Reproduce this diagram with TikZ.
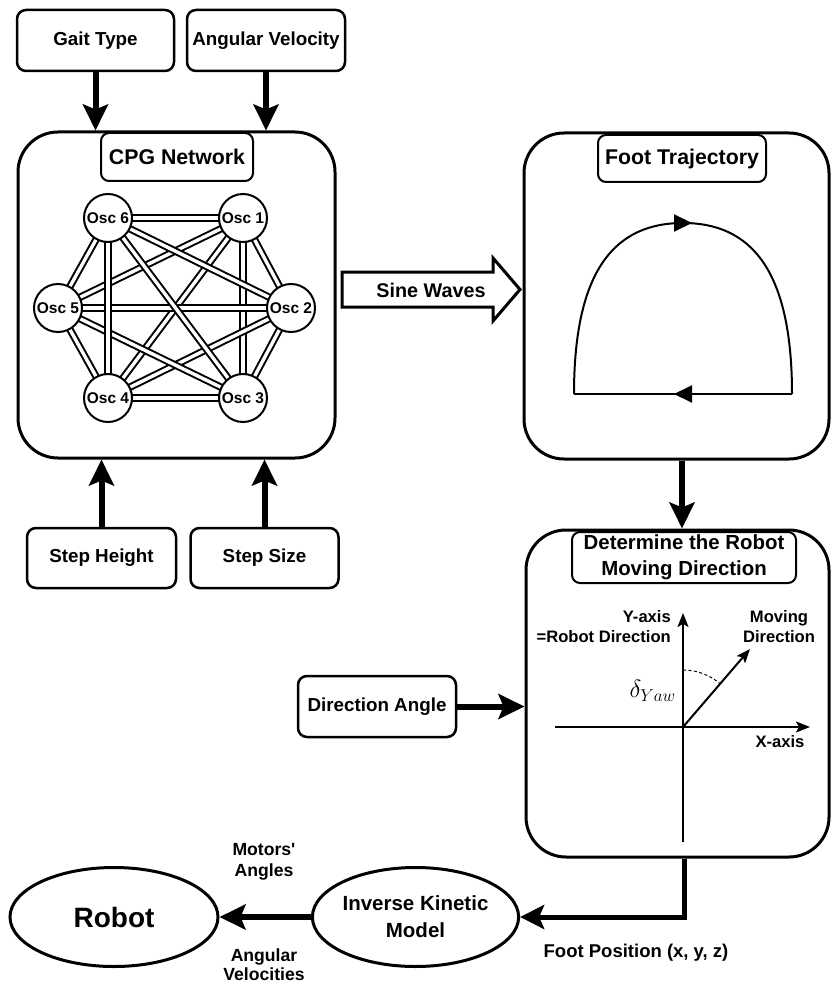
\documentclass[tikz,border=0pt]{standalone}
\usepackage[no-math]{fontspec}
\setmainfont{Liberation Sans}
\usetikzlibrary{arrows.meta,shapes.geometric,backgrounds,decorations.markings,calc}
\newcommand{\fsz}[2]{\fontsize{#1pt}{#2pt}\selectfont\bfseries}
\begin{document}
\begin{tikzpicture}[x=1pt,y=-1pt,
  bigbox/.style={draw, line width=3pt, rounded corners=40pt, inner sep=0pt},
  inbox/.style={draw, line width=2pt, rounded corners=8pt, fill=white, inner sep=0pt, align=center},
  smallbox/.style={draw, line width=2.5pt, rounded corners=9pt, inner sep=0pt, font=\fsz{18.8}{22}},
  osc/.style={circle, draw, line width=2pt, fill=white, minimum size=48pt, inner sep=0pt, font=\fsz{15.5}{18}},
  link/.style={line width=2pt, double=white, double distance=3.4pt},
  bigarrow/.style={line width=6pt, -{Stealth[length=26pt,width=25pt,inset=5pt]}},
  midarrow/.style={line width=5pt, -{Stealth[length=24pt,width=24pt,inset=5pt]}},
  axisline/.style={line width=2pt},
  axisarrow/.style={line width=2pt, -{Stealth[length=14pt,width=11pt,inset=3pt]}},
  traj/.style={line width=2pt},
  trajmark/.style={postaction={decorate}, decoration={markings, mark=at position 0.5 with {\arrow[xshift=9pt]{Triangle[length=18pt,width=17pt]}}}},
  oval/.style={ellipse, draw, line width=3pt, inner sep=0pt, align=center},
  plain/.style={inner sep=0pt, align=center}
]
\useasboundingbox (0,0) rectangle (832,987);

% ---------- top inputs ----------
\node[smallbox, minimum width=157pt, minimum height=61pt] (gait) at (95.5,40.5) {Gait Type};
\node[smallbox, minimum width=158pt, minimum height=61pt] (angvel) at (266,40.5) {Angular Velocity};

% ---------- CPG network ----------
\node[bigbox, minimum width=317pt, minimum height=326pt] (cpg) at (176.5,295) {};
\node[inbox, minimum width=152pt, minimum height=48pt, font=\fsz{21.3}{25}] (cpglabel) at (177,157) {CPG Network};

\node[osc] (o1) at (243,218) {Osc 1};
\node[osc] (o2) at (291,308) {Osc 2};
\node[osc] (o3) at (243,398) {Osc 3};
\node[osc] (o4) at (108,398) {Osc 4};
\node[osc] (o5) at (58,308) {Osc 5};
\node[osc] (o6) at (108,218) {Osc 6};
\begin{scope}[on background layer]
\foreach \a/\b in {1/2,1/3,1/4,1/5,1/6,2/3,2/4,2/5,2/6,3/4,3/5,3/6,4/5,4/6,5/6}
  \draw[link] (o\a.center) -- (o\b.center);
\end{scope}

\draw[bigarrow] (gait.south) -- (gait.south |- cpg.north);
\draw[bigarrow] (angvel.south) -- (angvel.south |- cpg.north);

% ---------- bottom inputs ----------
\node[smallbox, minimum width=149pt, minimum height=60pt] (steph) at (101.5,558) {Step Height};
\node[smallbox, minimum width=148pt, minimum height=60pt] (steps) at (264.5,558) {Step Size};
\draw[bigarrow] (steph.north) -- (steph.north |- cpg.south);
\draw[bigarrow] (steps.north) -- (steps.north |- cpg.south);

% ---------- Sine waves arrow ----------
\draw[line width=3pt, line join=miter] (342,272) -- (493,272) -- (493,258) -- (520,289.5) -- (493,321) -- (493,307) -- (342,307) -- cycle;
\node[plain, font=\fsz{19.8}{23}] (sine) at (431,290) {Sine Waves};

% ---------- Foot trajectory ----------
\node[bigbox, minimum width=305pt, minimum height=326pt] (ft) at (676.5,296) {};
\node[inbox, minimum width=168pt, minimum height=47pt, font=\fsz{21.3}{25}] (ftlabel) at (682,158.5) {Foot Trajectory};
\coordinate (tl) at (574,394);
\coordinate (tr) at (792,394);
\coordinate (tt) at (683,223);
\draw[traj, trajmark] (tl) .. controls (574,270) and (615,223) .. (tt) .. controls (751,223) and (792,270) .. (tr);
\draw[traj, trajmark] (tr) -- (tl);

% ---------- Determine moving direction ----------
\node[bigbox, minimum width=303pt, minimum height=327pt] (det) at (677.5,693.5) {};
\node[inbox, minimum width=224pt, minimum height=51pt, font=\fsz{20.4}{26.5}] (detlabel) at (684,557.5) {Determine the Robot\\Moving Direction};
\draw[bigarrow] (ftlabel.south |- ft.south) -- (ftlabel.south |- det.north);

\coordinate (O) at (683,727);
\coordinate (ytop) at (683,613);
\coordinate (ybot) at (683,842);
\coordinate (xl) at (555,727);
\coordinate (xr) at (810,727);
\coordinate (mv) at (750,649);
\draw[axisline] (ybot) -- (O);
\draw[axisarrow] (O) -- (ytop);
\draw[axisarrow] (xl) -- (xr);
\draw[axisarrow] (O) -- (mv);
\draw[line width=1pt, dash pattern=on 3pt off 2.5pt] (683,670) arc[start angle=270, end angle=311, radius=57];
\node[plain, anchor=east, font=\fsz{16.6}{20}, align=right] (ylab) at (671,627) {Y-axis\\=Robot Direction};
\node[plain, font=\fsz{16.6}{20}] (mvlab) at (779,627) {Moving\\Direction};
\node[plain, font=\fsz{16.6}{20}] (xlab) at (780,742) {X-axis};
\node[plain, anchor=east, font=\fontsize{26pt}{30pt}\selectfont] (dlab) at (676,691) {$\delta_{Yaw}$};

% ---------- Direction angle ----------
\node[smallbox, minimum width=158pt, minimum height=61pt] (dir) at (377,706.5) {Direction Angle};
\draw[bigarrow] (dir.east) -- (dir.east -| det.west);

% ---------- Bottom ----------
\node[oval, minimum width=208pt, minimum height=99pt, font=\fsz{28}{32}] (robot) at (114,917) {Robot};
\node[oval, minimum width=205pt, minimum height=99pt, font=\fsz{20.5}{27}] (ikm) at (415.5,917) {Inverse Kinetic\\Model};
\coordinate (detout) at (detlabel.south |- det.south);
\draw[midarrow, line join=miter] (detout) |- (ikm.east);
\draw[bigarrow] (ikm.west) -- (robot.east);
\node[plain, font=\fsz{17.6}{21}] (motl) at (264,862) {Motors\textquotesingle\\Angles};
\node[plain, font=\fsz{17.6}{19}] (angl) at (264,965) {Angular\\Velocities};
\node[plain, font=\fsz{18.5}{22}] (fpl) at (636,953) {Foot Position (x, y, z)};
\end{tikzpicture}
\end{document}
